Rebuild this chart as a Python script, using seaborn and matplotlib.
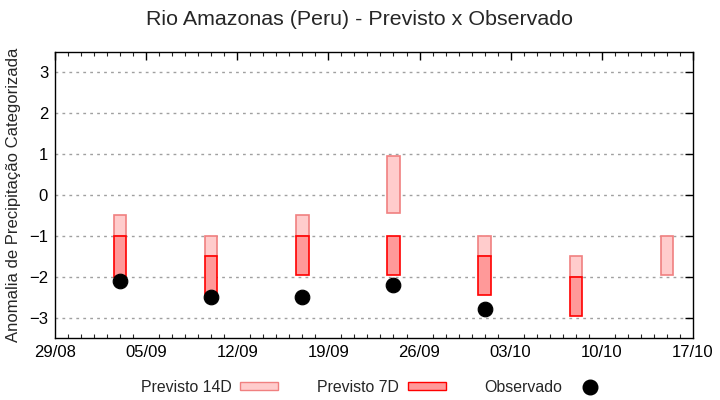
import pandas as pd
import numpy as np
import matplotlib
matplotlib.use("Agg")
import matplotlib.pyplot as plt
import matplotlib.dates as mdates
from matplotlib.patches import Patch
from matplotlib.lines import Line2D
from matplotlib import font_manager
import seaborn as sns

sns.set_theme(style="white")
plt.rcParams["font.family"] = ["Liberation Sans", "DejaVu Sans"]

# data
dates = pd.to_datetime(["2023-09-03", "2023-09-10", "2023-09-17", "2023-09-24",
                        "2023-10-01", "2023-10-08", "2023-10-15"])
p14_top = [-0.5, -1.0, -0.5, 0.95, -1.0, -1.5, -1.0]
p14_bot = [-1.0, -1.5, -1.0, -0.45, -1.5, -2.0, -1.95]
p7_top = [-1.0, -1.5, -1.0, -1.0, -1.5, -2.0, np.nan]
p7_bot = [-2.0, -2.45, -1.97, -1.97, -2.45, -2.95, np.nan]
obs = [-2.1, -2.5, -2.5, -2.2, -2.8, np.nan, np.nan]
week_ticks = pd.date_range("2023-08-29", "2023-10-17", freq="7D")

df = pd.DataFrame({"data": dates, "p14_top": p14_top, "p14_bot": p14_bot,
                   "p7_top": p7_top, "p7_bot": p7_bot, "obs": obs})

names = {f.name for f in font_manager.fontManager.ttflist}
narrow = "Liberation Sans Narrow" if "Liberation Sans Narrow" in names else "Liberation Sans"

fig = plt.figure(figsize=(7.2, 4), dpi=100)
ax = fig.add_axes([0.0764, 0.155, 0.886, 0.715])

x = mdates.date2num(df["data"])
ax.bar(x, df["p14_top"] - df["p14_bot"], bottom=df["p14_bot"], width=0.95,
       color="#ffcccc", edgecolor="#f08080", linewidth=1.2, zorder=2)
ax.bar(x, df["p7_top"] - df["p7_bot"], bottom=df["p7_bot"], width=0.95,
       color="#ff9999", edgecolor="red", linewidth=1.2, zorder=3)
sns.scatterplot(data=df.dropna(subset=["obs"]), x="data", y="obs", ax=ax,
                color="black", s=110, edgecolor="black", zorder=4, legend=False)

ax.set_xlim(week_ticks[0], week_ticks[-1])
ax.set_ylim(-3.5, 3.5)
ax.set_yticks(range(-3, 4))
ax.set_xticks(mdates.date2num(week_ticks), [d.strftime("%d/%m") for d in week_ticks],
              fontfamily=narrow, fontsize=13 if narrow != "Liberation Sans" else 12)
ax.xaxis.set_minor_locator(mdates.DayLocator())
ax.tick_params(axis="both", which="major", direction="in", length=6, width=1,
               top=True, right=True, labelsize=12, colors="black", pad=5)
ax.tick_params(axis="x", which="minor", direction="in", length=3, width=0.8,
               top=True, bottom=True)
ax.grid(axis="y", linestyle=(0, (2, 3)), color="#a0a0a0", linewidth=1, zorder=0)
for s in ax.spines.values():
    s.set_color("black")
    s.set_linewidth(1)
ax.set_xlabel("")
ax.set_ylabel("Anomalia de Precipitação Categorizada", fontsize=12, labelpad=6)
fig.suptitle("Rio Amazonas (Peru) - Previsto x Observado", fontsize=15.4, y=0.975)

handles = [Patch(facecolor="#ffcccc", edgecolor="#f08080"),
           Patch(facecolor="#ff9999", edgecolor="red"),
           Line2D([], [], marker="o", color="black", linestyle="none", markersize=10.5)]
fig.legend(handles, ["Previsto 14D", "Previsto 7D", "Observado"], loc="center",
           bbox_to_anchor=(0.521, 0.032), ncol=3, frameon=False, markerfirst=False,
           fontsize=11.4, handlelength=2.4, handleheight=0.36, columnspacing=2.45,
           handletextpad=0.55)

fig.savefig("out.png", dpi=100)
